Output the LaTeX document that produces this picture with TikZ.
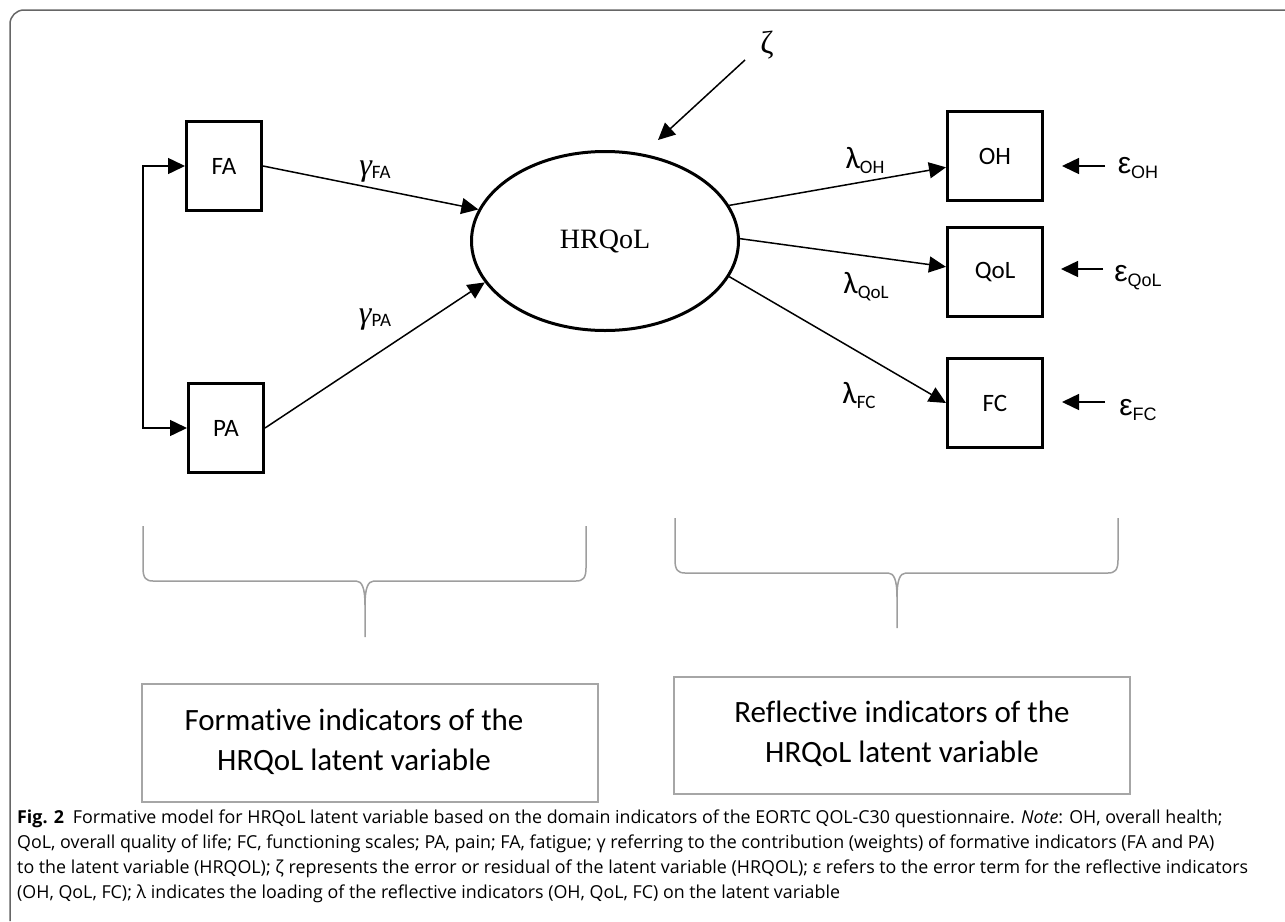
\documentclass[tikz,border=0pt]{standalone}
\usepackage{fontspec}
\setmainfont{Carlito}[Ligatures=NoCommon]
\newfontfamily\timesf{Liberation Serif}
\newfontfamily\arialf{Liberation Sans}
\newfontfamily\capf{Open Sans}
\usetikzlibrary{arrows.meta,shapes.geometric,calc}
\tikzset{
  varbox/.style={draw, line width=3pt, inner sep=0pt, minimum width=95pt, minimum height=89pt, font=\fontsize{25}{28}\selectfont},
  leftbox/.style={varbox, minimum width=75pt},
  latent/.style={draw, ellipse, line width=3pt, inner sep=0pt, minimum width=267pt, minimum height=179pt, font=\timesf\fontsize{28}{30}\selectfont},
  conn/.style={line width=1.5pt, -{Triangle[length=17pt,width=16pt]}},
  biconn/.style={line width=1.5pt, {Triangle[length=17pt,width=16pt]}-{Triangle[length=17pt,width=16pt]}},
  brace/.style={draw=black!38, line width=1.5pt},
  notebox/.style={draw=black!35, line width=1.5pt, inner sep=0pt},
  notetext/.style={align=center, font=\fontsize{31}{40}\selectfont},
  lbl/.style={inner sep=0pt},
  capline/.style={anchor=west, inner sep=0pt, font=\capf\fontsize{17.85}{20}\selectfont},
}
\newcommand{\gsym}[1]{{\timesf\itshape\fontsize{32}{34}\selectfont γ}\raisebox{-3pt}{\fontsize{19}{22}\selectfont #1}}
\newcommand{\lsym}[1]{{\fontsize{31}{33}\selectfont λ}\raisebox{-5pt}{\fontsize{19}{22}\selectfont #1}}
\newcommand{\esym}[1]{{\arialf\fontsize{30}{32}\selectfont ε}\raisebox{-5pt}{\arialf\fontsize{18}{22}\selectfont #1}}
\begin{document}
\begin{tikzpicture}[x=1pt,y=-1pt]
\useasboundingbox (0,0) rectangle (1285,921);
% frame
\draw[draw=black!60, line width=1.5pt, rounded corners=14pt] (10,921) -- (10,10) -- (1285,10);

% nodes
\node[leftbox] (FA) at (224,166) {FA};
\node[leftbox] (PA) at (226,428) {PA};
\node[latent] (hr) at (605,241) {HRQoL};
\node[varbox] (OH) at (995,156) {OH};
\node[varbox] (QoL) at (995,272) {QoL};
\node[varbox] (FC) at (995,403) {FC};

\node[lbl] (zeta) at (767,45) {\timesf\fontsize{32}{34}\selectfont ζ};
\coordinate (zs) at (745,60);
\coordinate (ze) at (658,140);

\node[lbl] (gFA) at (375,172) {\gsym{FA}};
\node[lbl] (gPA) at (375,320) {\gsym{PA}};
\node[lbl] (lOH) at (865,160) {\lsym{OH}};
\node[lbl] (lQoL) at (866,287) {\lsym{QoL}};
\node[lbl] (lFC) at (859,395) {\lsym{FC}};
\node[lbl] (eOH) at (1138,168) {\esym{OH}};
\node[lbl] (eQoL) at (1138,278) {\esym{QoL}};
\node[lbl] (eFC) at (1138,410) {\esym{FC}};
\coordinate (eOHs) at (1105,166);
\coordinate (eOHe) at (1062,166);
\coordinate (eQoLs) at (1103,269);
\coordinate (eQoLe) at (1061,269);
\coordinate (eFCs) at (1105,402);
\coordinate (eFCe) at (1062,402);

% connectors
\draw[biconn] (FA.west) -- ++(-42,0) |- (PA.west);
\draw[conn] (FA.east) -- (hr.166);
\draw[conn] (PA.east) -- (hr.199);
\draw[conn] (zs) -- (ze);
\draw[conn] (hr.16) -- (OH.193);
\draw[conn] (hr.1) -- (QoL.174);
\draw[conn] (hr.-16) -- (FC.west);
\draw[conn] (eOHs) -- (eOHe);
\draw[conn] (eQoLs) -- (eQoLe);
\draw[conn] (eFCs) -- (eFCe);

% braces
\draw[brace] (143,526) -- (143,568) .. controls (143,578) and (146,581) .. (153,581) -- (356,581) .. controls (362,581) and (365,588) .. (365,605) -- (365,637);
\draw[brace] (586,526) -- (586,568) .. controls (586,578) and (583,581) .. (576,581) -- (374,581) .. controls (368,581) and (365,588) .. (365,605);
\draw[brace] (675,518) -- (675,560) .. controls (675,570) and (678,573) .. (685,573) -- (888,573) .. controls (894,573) and (897,580) .. (897,597) -- (897,628);
\draw[brace] (1118,518) -- (1118,560) .. controls (1118,570) and (1115,573) .. (1108,573) -- (906,573) .. controls (900,573) and (897,580) .. (897,597);

% note boxes
\node[notebox, minimum width=456pt, minimum height=118pt] (fbox) at (370,743) {};
\node[notetext] (ftext) at (354,742) {Formative indicators of the\\HRQoL latent variable};
\node[notebox, minimum width=456pt, minimum height=117pt] (rbox) at (902,735.5) {};
\node[notetext] (rtext) at (902,734) {Reflective indicators of the\\HRQoL latent variable};

% caption
\node[capline] (cap1) at (17,819) {\textbf{Fig. 2}\enspace Formative model for HRQoL latent variable based on the domain indicators of the EORTC QOL-C30 questionnaire. \textit{Note}: OH, overall health;};
\node[capline] (cap2) at (17,844) {QoL, overall quality of life; FC, functioning scales; PA, pain; FA, fatigue; γ referring to the contribution (weights) of formative indicators (FA and PA)};
\node[capline] (cap3) at (17,869) {to the latent variable (HRQOL); ζ represents the error or residual of the latent variable (HRQOL); ε refers to the error term for the reflective indicators};
\node[capline] (cap4) at (17,894) {(OH, QoL, FC); λ indicates the loading of the reflective indicators (OH, QoL, FC) on the latent variable};
\end{tikzpicture}
\end{document}
